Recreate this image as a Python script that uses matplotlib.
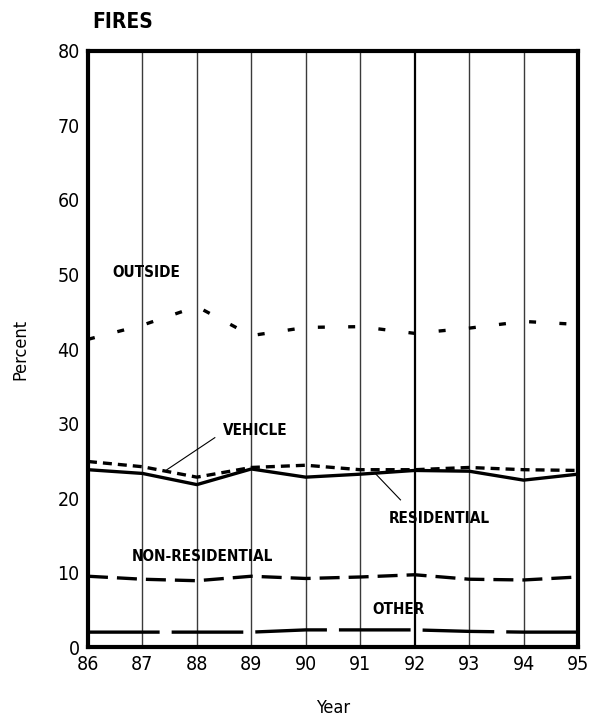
import matplotlib.pyplot as plt
from matplotlib import font_manager

names = sorted({(f.name, f.stretch) for f in font_manager.fontManager.ttflist})
print(names)

plt.rcParams['font.family'] = ['DejaVu Sans']
plt.rcParams['font.stretch'] = 'condensed'

years = [86, 87, 88, 89, 90, 91, 92, 93, 94, 95]
outside = [41.3, 43.2, 45.7, 41.8, 42.9, 43.0, 42.1, 42.8, 43.7, 43.3]
vehicle = [24.9, 24.2, 22.8, 24.1, 24.4, 23.8, 23.8, 24.1, 23.8, 23.7]
residential = [23.8, 23.3, 21.8, 23.9, 22.8, 23.2, 23.7, 23.6, 22.4, 23.2]
non_residential = [9.5, 9.1, 8.9, 9.5, 9.2, 9.4, 9.7, 9.1, 9.0, 9.4]
other = [2.0, 2.0, 2.0, 2.0, 2.3, 2.3, 2.3, 2.1, 2.0, 2.0]

fig = plt.figure(figsize=(5.92, 7.19), dpi=100)
ax = fig.add_axes([0.1486, 0.1001, 0.8277, 0.8290])

# vertical year lines
for yr in years[1:-1]:
    if yr == 92:
        ax.axvline(yr, color='black', lw=1.6, zorder=1)
    else:
        ax.axvline(yr, color='#3a3a3a', lw=1.0, zorder=1)

ax.plot(years, outside, color='black', lw=2.4, dashes=(2.1, 7))
ax.plot(years, vehicle, color='black', lw=2.4, dashes=(2.7, 1.8))
ax.plot(years, residential, color='black', lw=2.4)
ax.plot(years, non_residential, color='black', lw=2.4, dashes=(6, 2.7))
ax.plot(years, other, color='black', lw=2.4, dashes=(21.5, 3.6))

lab = dict(fontsize=11, fontweight='bold', ha='center', va='center')
ax.text(87.07, 50.3, 'OUTSIDE', **lab)
ax.text(89.07, 29.0, 'VEHICLE', **lab)
ax.text(92.45, 17.2, 'RESIDENTIAL', **lab)
ax.text(88.11, 12.2, 'NON-RESIDENTIAL', **lab)
ax.text(91.71, 5.1, 'OTHER', **lab)
ax.plot([88.33, 87.45], [28.1, 23.8], color='black', lw=0.8)
ax.plot([91.74, 91.27], [19.75, 23.35], color='black', lw=0.8)

ax.set_xlim(86, 95)
ax.set_ylim(0, 80)
ax.set_xticks(years)
ax.set_yticks(range(0, 81, 10))
ax.tick_params(length=0, labelsize=14, pad=6)
for s in ax.spines.values():
    s.set_linewidth(3)
ax.set_xlabel('Year', fontsize=13, labelpad=18)
ax.set_ylabel('Percent', fontsize=13, labelpad=20)
fig.text(0.155, 0.969, 'FIRES', fontsize=15, fontweight='bold', ha='left', va='center')

fig.savefig('out.png', dpi=100)
